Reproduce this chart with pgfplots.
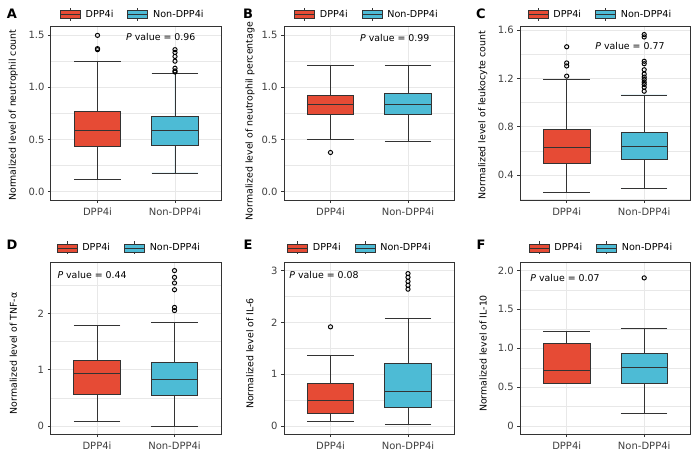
\documentclass[border=0pt]{standalone}
\usepackage{fontspec}
\setmainfont{DejaVu Sans}
\usepackage{pgfplots}
\pgfplotsset{compat=1.18}
\usepgfplotslibrary{statistics}
\definecolor{npgred}{HTML}{E64B35}
\definecolor{npgblue}{HTML}{4DBBD5}
\definecolor{gr20}{HTML}{333333}
\definecolor{gr30}{HTML}{3F3F3F}
\definecolor{gridc}{HTML}{E8E8E8}
\tikzset{pval/.style={anchor=west, inner sep=0pt, font=\fontsize{9.4}{11}\selectfont, text=black}}
\pgfplotsset{
  panel/.style={
    scale only axis, anchor=south west,
    xmin=0.4, xmax=2.6,
    xtick={1,2}, xticklabels={DPP4i,Non-DPP4i},
    xtick pos=lower, ytick pos=left,
    xmajorgrids, ymajorgrids, yminorgrids,
    major grid style={draw=gridc, line width=0.9pt},
    minor grid style={draw=gridc, line width=0.5pt},
    axis line style={draw=gr20, line width=1pt},
    tick align=outside, major tick length=3pt, minor tick length=0pt,
    tick style={draw=gr20, line width=0.8pt},
    /pgf/number format/assume math mode=true,
    every tick label/.append style={font=\fontsize{10}{12}\selectfont, text=gr30},
    xticklabel style={yshift=-1.5pt},
    ylabel style={font=\fontsize{9.4}{11}\selectfont, text=black, anchor=center},
    legend columns=2,
    legend style={anchor=west, draw=none, fill=none, inner sep=0pt, outer sep=0pt,
      font=\fontsize{9.6}{11}\selectfont,
      nodes={inner sep=0pt},
      /tikz/every odd column/.append style={column sep=5pt},
      /tikz/every even column/.append style={column sep=14pt}},
  },
  bp/.style={draw=gr20, line width=0.8pt, mark=o, mark size=2.1pt,
    mark options={draw=black, line width=0.95pt, fill=none},
    boxplot/draw direction=y,
    boxplot/box extend=0.6, boxplot/whisker extend=0.6},
  boxkey/.style={legend image code/.code={
    \draw[fill=#1, draw=gr20, line width=0.7pt] (0pt,-4pt) rectangle (20pt,4pt);
    \draw[gr20, line width=0.7pt] (0pt,0pt) -- (20pt,0pt);
    \draw[gr20, line width=0.7pt] (10pt,4pt) -- (10pt,6.5pt);
    \draw[gr20, line width=0.7pt] (10pt,-4pt) -- (10pt,-6.5pt);
  }},
}
\begin{document}
\begin{tikzpicture}
\path[use as bounding box] (0pt,0pt) rectangle (697pt,459pt);
\node[font=\fontsize{13}{14}\selectfont\bfseries] at (12pt,445pt) {A};
\node[font=\fontsize{13}{14}\selectfont\bfseries] at (248pt,445pt) {B};
\node[font=\fontsize{13}{14}\selectfont\bfseries] at (481pt,445pt) {C};
\node[font=\fontsize{13}{14}\selectfont\bfseries] at (12pt,214pt) {D};
\node[font=\fontsize{13}{14}\selectfont\bfseries] at (248pt,214pt) {E};
\node[font=\fontsize{13}{14}\selectfont\bfseries] at (481pt,214pt) {F};

% ---------- A ----------
\begin{axis}[panel, at={(51pt,259pt)}, width=170.5pt, height=173.3pt,
  ymin=-0.08, ymax=1.58, ytick={0,0.5,1,1.5}, yticklabels={0.0,0.5,1.0,1.5},
  minor ytick={0.25,0.75,1.25},
  ylabel={Normalized level of neutrophil count},
  ylabel style={at={(axis description cs:-0.221,0.49)}},
  legend style={at={(axis description cs:0.053,1.072)}}]
\addlegendimage{boxkey=npgred}\addlegendentry{DPP4i}
\addlegendimage{boxkey=npgblue}\addlegendentry{Non-DPP4i}
\addplot[bp, fill=npgred, boxplot prepared={lower whisker=0.117, lower quartile=0.432, median=0.59, upper quartile=0.765, upper whisker=1.243, draw position=1}]
  table[row sep=\\, y index=0] {data\\ 1.497\\ 1.36\\ 1.37\\};
\addplot[bp, fill=npgblue, boxplot prepared={lower whisker=0.179, lower quartile=0.445, median=0.584, upper quartile=0.724, upper whisker=1.13, draw position=2}]
  table[row sep=\\, y index=0] {data\\ 1.36\\ 1.334\\ 1.295\\ 1.25\\ 1.182\\ 1.156\\ 1.146\\};
\node[pval] at (rel axis cs:0.44,0.939) {\textit{P} value = 0.96};
\end{axis}

% ---------- B ----------
\begin{axis}[panel, at={(284pt,259pt)}, width=170.5pt, height=173.3pt,
  ymin=-0.08, ymax=1.58, ytick={0,0.5,1,1.5}, yticklabels={0.0,0.5,1.0,1.5},
  minor ytick={0.25,0.75,1.25},
  ylabel={Normalized level of neutrophil percentage},
  ylabel style={at={(axis description cs:-0.199,0.455)}},
  legend style={at={(axis description cs:0.06,1.072)}}]
\addlegendimage{boxkey=npgred}\addlegendentry{DPP4i}
\addlegendimage{boxkey=npgblue}\addlegendentry{Non-DPP4i}
\addplot[bp, fill=npgred, boxplot prepared={lower whisker=0.501, lower quartile=0.737, median=0.838, upper quartile=0.925, upper whisker=1.207, draw position=1}]
  table[row sep=\\, y index=0] {data\\ 0.375\\};
\addplot[bp, fill=npgblue, boxplot prepared={lower whisker=0.482, lower quartile=0.744, median=0.838, upper quartile=0.938, upper whisker=1.207, draw position=2}]
  coordinates {};
\node[pval] at (rel axis cs:0.446,0.937) {\textit{P} value = 0.99};
\end{axis}

% ---------- C ----------
\begin{axis}[panel, at={(520.2pt,259pt)}, width=170.5pt, height=173.3pt,
  ymin=0.193, ymax=1.627, ytick={0.4,0.8,1.2,1.6}, yticklabels={0.4,0.8,1.2,1.6},
  minor ytick={0.2,0.6,1.0,1.4},
  ylabel={Normalized level of leukocyte count},
  ylabel style={at={(axis description cs:-0.22,0.49)}},
  legend style={at={(axis description cs:0.044,1.072)}}]
\addlegendimage{boxkey=npgred}\addlegendentry{DPP4i}
\addlegendimage{boxkey=npgblue}\addlegendentry{Non-DPP4i}
\addplot[bp, fill=npgred, boxplot prepared={lower whisker=0.258, lower quartile=0.492, median=0.626, upper quartile=0.774, upper whisker=1.19, draw position=1}]
  table[row sep=\\, y index=0] {data\\ 1.461\\ 1.327\\ 1.302\\ 1.218\\};
\addplot[bp, fill=npgblue, boxplot prepared={lower whisker=0.291, lower quartile=0.529, median=0.635, upper quartile=0.749, upper whisker=1.062, draw position=2}]
  table[row sep=\\, y index=0] {data\\ 1.562\\ 1.542\\ 1.341\\ 1.321\\ 1.271\\ 1.235\\ 1.21\\ 1.19\\ 1.168\\ 1.149\\ 1.126\\ 1.093\\};
\node[pval] at (rel axis cs:0.44,0.89) {\textit{P} value = 0.77};
\end{axis}

% ---------- D ----------
\begin{axis}[panel, at={(50.5pt,25pt)}, width=170.5pt, height=171.3pt,
  ymin=-0.14, ymax=2.9, ytick={0,1,2}, yticklabels={0,1,2},
  minor ytick={0.5,1.5,2.5},
  ylabel={Normalized level of TNF-α},
  ylabel style={at={(axis description cs:-0.218,0.47)}},
  legend style={at={(axis description cs:0.036,1.086)}}]
\addlegendimage{boxkey=npgred}\addlegendentry{DPP4i}
\addlegendimage{boxkey=npgblue}\addlegendentry{Non-DPP4i}
\addplot[bp, fill=npgred, boxplot prepared={lower whisker=0.083, lower quartile=0.564, median=0.931, upper quartile=1.169, upper whisker=1.78, draw position=1}]
  coordinates {};
\addplot[bp, fill=npgblue, boxplot prepared={lower whisker=0.0, lower quartile=0.54, median=0.831, upper quartile=1.134, upper whisker=1.834, draw position=2}]
  table[row sep=\\, y index=0] {data\\ 2.76\\ 2.64\\ 2.54\\ 2.42\\ 2.106\\ 2.05\\};
\node[pval] at (rel axis cs:0.04,0.93) {\textit{P} value = 0.44};
\end{axis}

% ---------- E ----------
\begin{axis}[panel, at={(284pt,25pt)}, width=170.5pt, height=171.3pt,
  ymin=-0.15, ymax=3.15, ytick={0,1,2,3}, yticklabels={0,1,2,3},
  minor ytick={0.5,1.5,2.5},
  ylabel={Normalized level of IL-6},
  ylabel style={at={(axis description cs:-0.2,0.47)}},
  legend style={at={(axis description cs:0.019,1.086)}}]
\addlegendimage{boxkey=npgred}\addlegendentry{DPP4i}
\addlegendimage{boxkey=npgblue}\addlegendentry{Non-DPP4i}
\addplot[bp, fill=npgred, boxplot prepared={lower whisker=0.091, lower quartile=0.252, median=0.498, upper quartile=0.828, upper whisker=1.364, draw position=1}]
  table[row sep=\\, y index=0] {data\\ 1.914\\};
\addplot[bp, fill=npgblue, boxplot prepared={lower whisker=0.026, lower quartile=0.355, median=0.673, upper quartile=1.208, upper whisker=2.075, draw position=2}]
  table[row sep=\\, y index=0] {data\\ 2.94\\ 2.87\\ 2.79\\ 2.715\\ 2.64\\};
\node[pval] at (rel axis cs:0.031,0.93) {\textit{P} value = 0.08};
\end{axis}

% ---------- F ----------
\begin{axis}[panel, at={(520.2pt,25pt)}, width=170.5pt, height=171.3pt,
  ymin=-0.1, ymax=2.1, ytick={0,0.5,1,1.5,2}, yticklabels={0,0.5,1.0,1.5,2.0},
  minor ytick={0.25,0.75,1.25,1.75},
  ylabel={Normalized level of IL-10},
  ylabel style={at={(axis description cs:-0.218,0.47)}},
  legend style={at={(axis description cs:0.05,1.086)}}]
\addlegendimage{boxkey=npgred}\addlegendentry{DPP4i}
\addlegendimage{boxkey=npgblue}\addlegendentry{Non-DPP4i}
\addplot[bp, fill=npgred, boxplot prepared={lower whisker=0.548, lower quartile=0.548, median=0.717, upper quartile=1.058, upper whisker=1.222, draw position=1}]
  coordinates {};
\addplot[bp, fill=npgblue, boxplot prepared={lower whisker=0.16, lower quartile=0.548, median=0.752, upper quartile=0.937, upper whisker=1.261, draw position=2}]
  table[row sep=\\, y index=0] {data\\ 1.905\\};
\node[pval] at (rel axis cs:0.059,0.91) {\textit{P} value = 0.07};
\end{axis}
\end{tikzpicture}
\end{document}
